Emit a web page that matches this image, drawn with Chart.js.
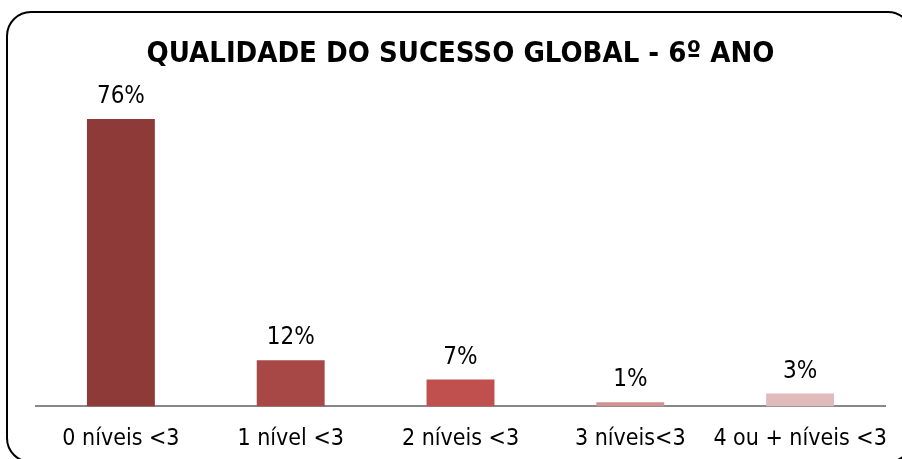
<!DOCTYPE html>
<html>
<head>
<meta charset="utf-8">
<script src="https://cdn.jsdelivr.net/npm/chart.js@4/dist/chart.umd.min.js"></script>
<style>
  html, body { margin: 0; padding: 0; background: #fff; }
  #wrap { width: 902px; height: 459px; }
</style>
</head>
<body>
<div id="wrap"><canvas id="myChart" width="902" height="459"></canvas></div>
<script>
const categories = ["0 níveis <3", "1 nível <3", "2 níveis <3", "3 níveis<3", "4 ou + níveis <3"];
const values = [76.0, 12.2, 7.1, 1.1, 3.4];
const barColors = ["#8E3A38", "#A84846", "#C0504D", "#D09292", "#E0BBBB"];
const chartTitle = "QUALIDADE DO SUCESSO GLOBAL - 6º ANO";

const FONT = "'DejaVu Sans Condensed', 'DejaVu Sans', sans-serif";

// rounded frame around the whole chart
const framePlugin = {
  id: "frame",
  beforeDraw(chart) {
    let ctx = chart.ctx;
    ctx.save();
    ctx.strokeStyle = "#000";
    ctx.lineWidth = 2;
    ctx.beginPath();
    ctx.roundRect(7, 12, 905, 450, 24);
    ctx.stroke();
    ctx.restore();
  },
};

// percentage labels above bars
const labelPlugin = {
  id: "barLabels",
  afterDatasetsDraw(chart) {
    let ctx = chart.ctx;
    let meta = chart.getDatasetMeta(0);
    ctx.save();
    ctx.fillStyle = "#000";
    ctx.font = "24px " + FONT;
    ctx.textAlign = "center";
    ctx.textBaseline = "alphabetic";
    meta.data.forEach((bar, i) => {
      ctx.fillText(Math.round(values[i]) + "%", bar.x, bar.y - 16);
    });
    ctx.restore();
  },
};

let ctx = document.getElementById("myChart").getContext("2d");
let chart = new Chart(ctx, {
  type: "bar",
  data: {
    labels: categories,
    datasets: [
      {
        data: values,
        backgroundColor: barColors,
        borderWidth: 0,
        barPercentage: 0.4,
        categoryPercentage: 1,
      },
    ],
  },
  options: {
    responsive: false,
    animation: false,
    devicePixelRatio: 1,
    layout: { padding: { left: 36, right: 17, top: 0, bottom: -13 } },
    plugins: {
      legend: { display: false },
      tooltip: { enabled: false },
      title: {
        display: true,
        text: chartTitle,
        color: "#000",
        font: { family: FONT, size: 29, weight: "bold" },
        padding: { top: 37, bottom: 32 },
      },
    },
    scales: {
      x: {
        grid: { display: false, drawTicks: false },
        border: { color: "#888", width: 2 },
        ticks: { color: "#000", font: { family: FONT, size: 23 }, padding: 19, maxRotation: 0, autoSkip: false },
        afterFit(scale) {
          // let the last label overhang, like the original
          scale.paddingLeft = 0;
          scale.paddingRight = 0;
        },
      },
      y: {
        display: false,
        min: 0,
        max: 80,
      },
    },
  },
  plugins: [framePlugin, labelPlugin],
});
</script>
</body>
</html>
